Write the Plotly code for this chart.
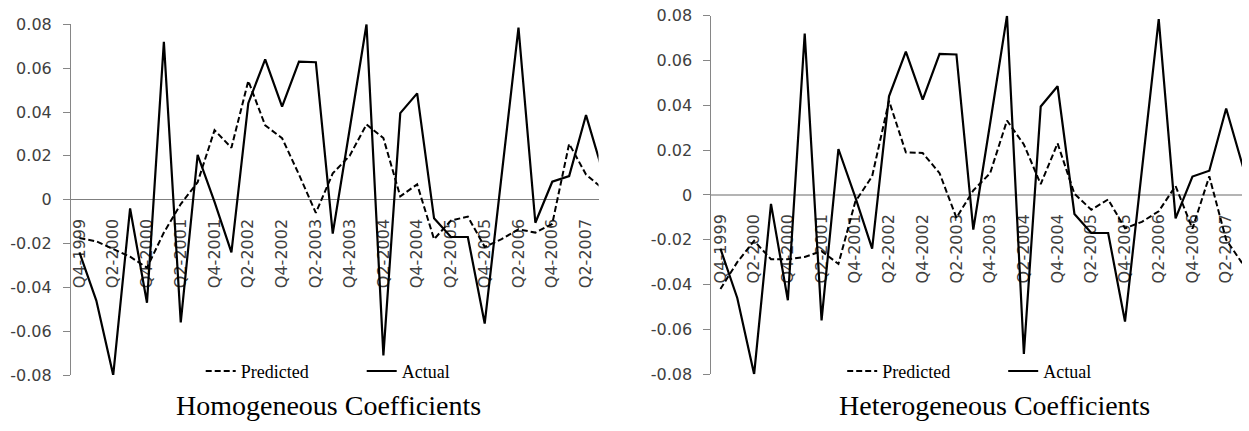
import plotly.graph_objects as go

# ---------------- data ----------------
quarters = [
    "Q4-1999", "Q1-2000", "Q2-2000", "Q3-2000", "Q4-2000", "Q1-2001", "Q2-2001", "Q3-2001",
    "Q4-2001", "Q1-2002", "Q2-2002", "Q3-2002", "Q4-2002", "Q1-2003", "Q2-2003", "Q3-2003",
    "Q4-2003", "Q1-2004", "Q2-2004", "Q3-2004", "Q4-2004", "Q1-2005", "Q2-2005", "Q3-2005",
    "Q4-2005", "Q1-2006", "Q2-2006", "Q3-2006", "Q4-2006", "Q1-2007", "Q2-2007", "Q3-2007",
]

actual = [
    -0.024, -0.046, -0.080, -0.004, -0.047, 0.072, -0.056, 0.0205,
    -0.001, -0.024, 0.044, 0.064, 0.0425, 0.063, 0.0627, -0.0155,
    0.032, 0.080, -0.071, 0.0395, 0.0485, -0.0085, -0.017, -0.017,
    -0.0565, 0.011, 0.0785, -0.0105, 0.0082, 0.0108, 0.0386, 0.0125,
]

pred_homogeneous = [
    -0.0175, -0.019, -0.0225, -0.026, -0.031, -0.015, -0.002, 0.008,
    0.0317, 0.0237, 0.0542, 0.0339, 0.0281, 0.0115, -0.006, 0.012,
    0.020, 0.0343, 0.0281, 0.0015, 0.007, -0.018, -0.0095, -0.0077,
    -0.0215, -0.018, -0.0135, -0.015, -0.011, 0.0255, 0.0115, 0.005,
]

pred_heterogeneous = [
    -0.042, -0.030, -0.0205, -0.0287, -0.0287, -0.0277, -0.0251, -0.0308,
    -0.003, 0.0083, 0.042, 0.019, 0.0187, 0.0097, -0.0102, 0.002,
    0.0097, 0.0332, 0.0225, 0.0048, 0.023, 0.0005, -0.0066, -0.002,
    -0.0149, -0.012, -0.0073, 0.004, -0.0151, 0.0083, -0.020, -0.031,
]

y_tick_vals = [0.08, 0.06, 0.04, 0.02, 0, -0.02, -0.04, -0.06, -0.08]
y_tick_text = ["0.08", "0.06", "0.04", "0.02", "0", "-0.02", "-0.04", "-0.06", "-0.08"]
x_tick_labels = quarters[::2][:16]
panel_titles = ["Homogeneous Coefficients", "Heterogeneous Coefficients"]
series_names = ["Predicted", "Actual"]

# ---------------- figure ----------------
W, H = 1249, 431
fig = go.Figure()

panels = [
    dict(pred=pred_homogeneous, xa="x", ya="y", lg="legend"),
    dict(pred=pred_heterogeneous, xa="x2", ya="y2", lg="legend2"),
]

for p in panels:
    fig.add_trace(go.Scatter(
        x=quarters, y=p["pred"], mode="lines", name=series_names[0],
        line=dict(color="black", width=2, dash="6px,3px"),
        xaxis=p["xa"], yaxis=p["ya"], legend=p["lg"], hoverinfo="skip",
    ))
    fig.add_trace(go.Scatter(
        x=quarters, y=actual, mode="lines", name=series_names[1],
        line=dict(color="black", width=2.2),
        xaxis=p["xa"], yaxis=p["ya"], legend=p["lg"], hoverinfo="skip",
    ))

tick_font = dict(family="DejaVu Sans", size=16, color="#404040")

def yaxis_cfg(domain, anchor, zcolor, zwidth):
    return dict(
        domain=domain, anchor=anchor, range=[-0.08, 0.08],
        tickvals=y_tick_vals, ticktext=y_tick_text, tickfont=tick_font,
        showline=True, linecolor="#868686", linewidth=1,
        ticks="outside", ticklen=7, tickcolor="#868686", tickwidth=1,
        ticklabelstandoff=8,
        showgrid=False, zeroline=True, zerolinecolor=zcolor, zerolinewidth=zwidth,
        fixedrange=True,
    )

def xaxis_cfg(domain, rng, pos):
    return dict(
        domain=domain, type="category", range=rng, anchor="free", position=pos,
        tickvals=x_tick_labels, ticktext=x_tick_labels, tickangle=-90,
        tickfont=tick_font, ticks="", ticklabelstandoff=15,
        showline=False, showgrid=False, zeroline=False, layer="below traces",
        fixedrange=True,
    )

ydom1 = [1 - 383 / H, 1 - 16 / H]
ydom2 = [1 - 382 / H, 1 - 7 / H]

legend_font = dict(family="Liberation Serif", size=18, color="black")

fig.update_layout(
    width=W, height=H,
    margin=dict(l=0, r=0, t=0, b=0),
    paper_bgcolor="white", plot_bgcolor="white",
    xaxis=xaxis_cfg([70 / W, 598 / W], [-0.503, 30.74], sum(ydom1) / 2),
    yaxis=yaxis_cfg(ydom1, "x", "#7f7f7f", 1),
    xaxis2=xaxis_cfg([711 / W, 1242 / W], [-0.533, 30.94], sum(ydom2) / 2),
    yaxis2=yaxis_cfg(ydom2, "x2", "#b4b4b4", 2),
    legend=dict(
        orientation="h", x=361 / W, y=1 - 379 / H, xanchor="center", yanchor="middle",
        font=legend_font, bgcolor="rgba(0,0,0,0)", entrywidth=116,
    ),
    legend2=dict(
        orientation="h", x=1003 / W, y=1 - 379 / H, xanchor="center", yanchor="middle",
        font=legend_font, bgcolor="rgba(0,0,0,0)", entrywidth=116,
    ),
    showlegend=True,
)

for title, cx in zip(panel_titles, [328 / W, 994 / W]):
    fig.add_annotation(
        text=title, x=cx, y=1 - 415 / H, xref="paper", yref="paper",
        xanchor="center", yanchor="middle", showarrow=False,
        font=dict(family="Liberation Serif", size=28, color="black"),
    )

fig.write_html("out.html")
